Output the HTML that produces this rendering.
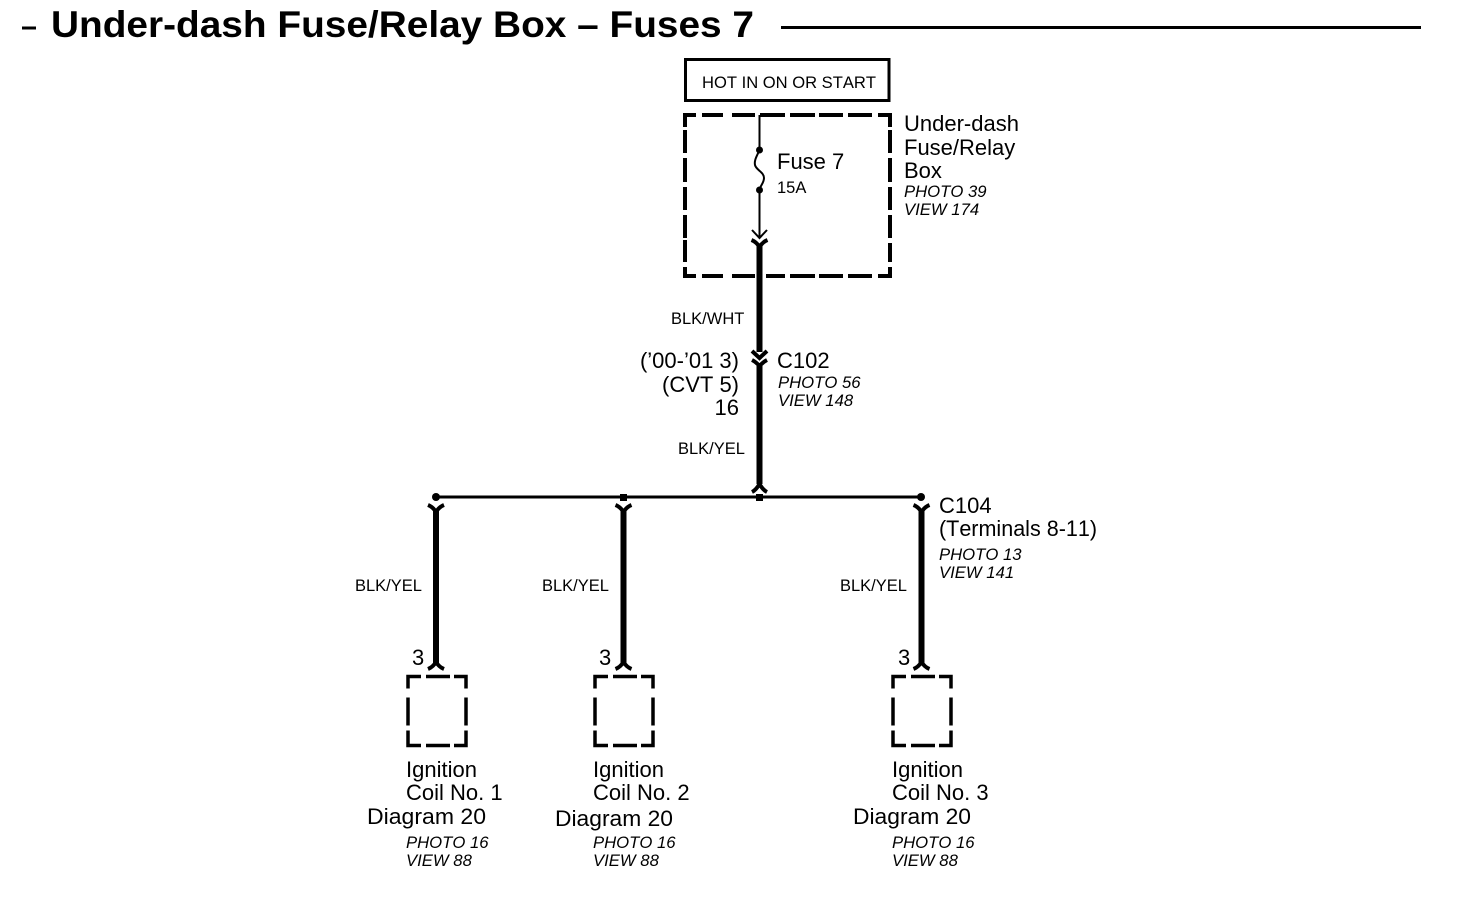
<!DOCTYPE html>
<html><head><meta charset="utf-8"><style>
html,body{margin:0;padding:0;background:#fff}
svg{display:block}
text{font-family:"Liberation Sans",sans-serif;fill:#000;font-kerning:none}
.m{font-size:22px}.s{font-size:16.5px}.i{font-size:16.7px;font-style:italic}
</style></head><body>
<svg width="1472" height="916" viewBox="0 0 1472 916" xmlns="http://www.w3.org/2000/svg">
<defs>
<g id="y" fill="none" stroke="#000">
<path d="M-8 1 Q-3 3 0 8 Q3 3 8 1" stroke-width="4"/>
<path d="M0 7V14" stroke-width="6"/>
</g>
<g id="c" fill="none" stroke="#000">
<path d="M-8 8 Q-3 6 0 1 Q3 6 8 8" stroke-width="4"/>
<path d="M0 -6V2" stroke-width="6"/>
</g>
<g id="b" fill="none" stroke="#000" stroke-width="3.5">
<path d="M0 13V1H13M18 1H42M46 1H58V13M58 22V50M58 55V70H46M42 70H18M13 70H0V55M0 50V22"/>
</g>
</defs>
<!-- title -->
<path d="M22 28H36" stroke="#000" stroke-width="3"/>
<text x="51" y="37" font-size="37" font-weight="bold" textLength="703" lengthAdjust="spacingAndGlyphs">Under-dash Fuse/Relay Box – Fuses 7</text>
<path d="M781 27.5H1421" stroke="#000" stroke-width="3"/>
<!-- hot box -->
<rect x="685.500" y="59.500" width="203.500" height="41" fill="none" stroke="#000" stroke-width="3"/>
<text x="702" y="88" font-size="16.5" textLength="174" lengthAdjust="spacingAndGlyphs">HOT IN ON OR START</text>
<!-- fuse box -->
<path fill="none" stroke="#000" stroke-width="4" d="M685 127V115H696M702 115H723M732 115H755M760 115H785M790 115H815M819 115H843M848 115H872M878 115H890V127M890 130V153M890 158V182M890 187V210M890 215V238M890 243V262M890 267V276H878M872 276H848M843 276H819M815 276H790M785 276H766M755 276H732M723 276H702M696 276H685V267M685 262V240M685 238V215M685 210V187M685 182V158M685 153V130"/>
<path fill="none" stroke="#000" stroke-width="2" d="M759.5 115V150C757 156 754 160 755 165C756 170 764 172 764 178C764 183 760 186 759.5 190V238M752 230L759.5 238L767 230"/>
<circle cx="759.5" cy="150" r="3.5"/><circle cx="759.5" cy="190" r="3.5"/>
<use href="#y" x="759.5" y="239"/>
<path d="M759.5 250V352" stroke="#000" stroke-width="6"/>
<text class="m" x="777" y="169">Fuse 7</text>
<text x="777" y="193" font-size="16.500">15A</text>
<text class="m" x="904" y="131">Under-dash</text>
<text class="m" x="904" y="155">Fuse/Relay</text>
<text class="m" x="904" y="178">Box</text>
<text class="i" x="904" y="197">PHOTO 39</text>
<text class="i" x="904" y="215">VIEW 174</text>
<!-- C102 -->
<text class="s" x="671" y="324">BLK/WHT</text>
<path fill="none" stroke="#000" stroke-width="4" d="M752 351L759.5 358L767 351"/>
<path fill="none" stroke="#000" stroke-width="4" d="M752 360Q756 362 759.5 366Q763 362 767 360"/>
<path d="M759.5 366V484" stroke="#000" stroke-width="6"/>
<text class="m" x="739" y="368" text-anchor="end">(’00-’01 3)</text>
<text class="m" x="739" y="392" text-anchor="end">(CVT 5)</text>
<text class="m" x="739" y="415" text-anchor="end">16</text>
<text class="m" x="777" y="368">C102</text>
<text class="i" x="778" y="388">PHOTO 56</text>
<text class="i" x="778" y="406">VIEW 148</text>
<text class="s" x="678" y="454">BLK/YEL</text>
<!-- bus -->
<path fill="none" stroke="#000" stroke-width="4" d="M752 492Q756 490 759.5 484Q763 490 767 492"/>
<path d="M436 497H921" stroke="#000" stroke-width="3"/>
<circle cx="436" cy="497" r="4"/><circle cx="921" cy="497" r="4"/>
<rect x="620" y="494" width="7" height="7"/><rect x="756" y="494" width="7" height="7"/>
<use href="#y" x="436" y="504"/><use href="#y" x="623.5" y="504"/><use href="#y" x="921.5" y="504"/>
<path d="M436 516V660M623.5 516V660M921.5 516V660" stroke="#000" stroke-width="6"/>
<use href="#c" x="436" y="661"/><use href="#c" x="623.5" y="661"/><use href="#c" x="921.5" y="661"/>
<use href="#b" x="408" y="675.500"/><use href="#b" x="595" y="675.500"/><use href="#b" x="893" y="675.500"/>
<text class="m" x="939" y="513">C104</text>
<text class="m" x="939" y="536" textLength="158" lengthAdjust="spacingAndGlyphs">(Terminals 8-11)</text>
<text class="i" x="939" y="560">PHOTO 13</text>
<text class="i" x="939" y="578">VIEW 141</text>
<text class="s" x="355" y="591">BLK/YEL</text>
<text class="s" x="542" y="591">BLK/YEL</text>
<text class="s" x="840" y="591">BLK/YEL</text>
<text class="m" x="412" y="665">3</text>
<text class="m" x="599" y="665">3</text>
<text class="m" x="898" y="665">3</text>
<text class="m" x="406" y="777">Ignition</text>
<text class="m" x="406" y="800">Coil No. 1</text>
<text class="m" x="367" y="824" textLength="119" lengthAdjust="spacingAndGlyphs">Diagram 20</text>
<text class="i" x="406" y="848">PHOTO 16</text>
<text class="i" x="406" y="866">VIEW 88</text>
<text class="m" x="593" y="777">Ignition</text>
<text class="m" x="593" y="800">Coil No. 2</text>
<text class="m" x="555" y="826" textLength="118" lengthAdjust="spacingAndGlyphs">Diagram 20</text>
<text class="i" x="593" y="848">PHOTO 16</text>
<text class="i" x="593" y="866">VIEW 88</text>
<text class="m" x="892" y="777">Ignition</text>
<text class="m" x="892" y="800">Coil No. 3</text>
<text class="m" x="853" y="824" textLength="118" lengthAdjust="spacingAndGlyphs">Diagram 20</text>
<text class="i" x="892" y="848">PHOTO 16</text>
<text class="i" x="892" y="866">VIEW 88</text>
</svg>
</body></html>
